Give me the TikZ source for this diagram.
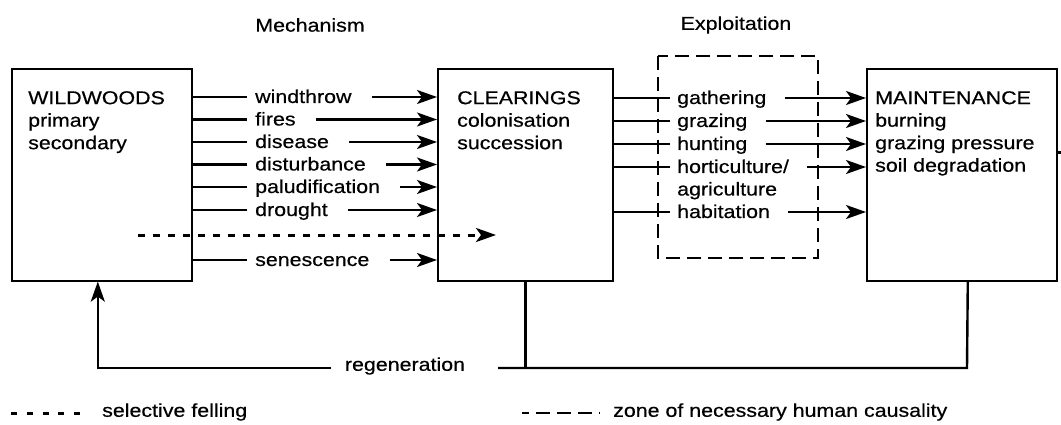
\documentclass[tikz,border=0pt]{standalone}
\usepackage{fontspec}
\setmainfont{Liberation Sans}[FakeStretch=1.15,FakeBold=0.5]
\usetikzlibrary{arrows.meta,calc}
\begin{document}
\begin{tikzpicture}[x=1pt,y=-1pt,
  every node/.style={font=\fontsize{18.6}{22.5}\selectfont},
  boxnode/.style={draw,line width=1.6pt,minimum width=#1,minimum height=212pt,inner sep=0pt,anchor=north west},
  boxtext/.style={anchor=north west,align=left,inner sep=0pt},
  lab/.style={anchor=west,inner sep=0pt,text height=13pt,text depth=1pt},
  conn/.style={line width=2.4pt},
  tip/.style={-{Stealth[length=20pt,width=14pt,inset=5pt]}},
  arr/.style={line width=2.4pt,tip},
  felling/.style={line width=3pt,dash pattern=on 7pt off 8pt},
  zone/.style={line width=2.4pt,dash pattern=on 14pt off 7pt}
]
\useasboundingbox (0,0) rectangle (1061,425);

% titles
\node (tmech) at (310,25) {Mechanism};
\node (texpl) at (736,25) {Exploitation};

% boxes
\node[boxnode=180pt] (wild) at (11,68) {};
\node[boxnode=175pt] (clear) at (437,68) {};
\node[boxnode=190pt] (maint) at (866,68) {};
\node[boxtext] (wildt) at (28,91) {WILDWOODS\\primary\\secondary};
\node[boxtext] (cleart) at (457,91) {CLEARINGS\\colonisation\\succession};
\node[boxtext] (maintt) at (875,91) {MAINTENANCE\\burning\\grazing pressure\\soil degradation};

% zone of necessary human causality
\draw[zone] (658,56) rectangle (818,258);

% mechanism labels
\node[lab] (m1) at (255,97) {windthrow};
\node[lab] (m2) at (255,119.5) {fires};
\node[lab] (m3) at (255,142) {disease};
\node[lab] (m4) at (255,164.5) {disturbance};
\node[lab] (m5) at (255,187) {paludification};
\node[lab] (m6) at (255,210) {drought};
\node[lab] (m7) at (255,260) {senescence};
\foreach \m in {m1,m2,m3,m4,m5,m6,m7}{
  \draw[conn] (wild.east |- \m.west) -- ([xshift=-8pt]\m.west);
  \draw[arr] ([xshift=20pt]\m.east) -- (clear.west |- \m.east);
}

% selective felling
\coordinate (sf1) at (138,235);
\coordinate (sf2) at (496,235);
\draw[felling,tip] (sf1) -- (sf2);

% exploitation labels
\node[lab] (e1) at (677,98) {gathering};
\node[lab] (e2) at (677,121) {grazing};
\node[lab] (e3) at (677,144) {hunting};
\node[lab] (e4) at (677,167) {horticulture/};
\node[lab] (e4b) at (677,189.5) {agriculture};
\node[lab] (e5) at (677,212) {habitation};
\foreach \e in {e1,e2,e3,e4,e5}{
  \draw[conn] (clear.east |- \e.west) -- ([xshift=-7pt]\e.west);
  \draw[arr] ([xshift=18pt]\e.east) -- (maint.west |- \e.east);
}

% stub on the right
\coordinate (stub) at (1061,153);
\draw[line width=3pt] (maint.east |- stub) -- (stub);

% regeneration
\node (regen) at (405,366) {regeneration};
\coordinate (rl) at (331,368);
\coordinate (rr) at (498,368);
\coordinate (rm) at (967,368);
\draw[arr] (rl) -| ([xshift=-4pt]wild.south);
\draw[conn] (rr) -- (rm) -- ([xshift=6pt]maint.south);
\draw[conn] (clear.south) -- (clear.south |- rr);

% legend
\coordinate (l1a) at (11,413);
\coordinate (l1b) at (80,413);
\draw[felling,dash pattern=on 6pt off 9.75pt] (l1a) -- (l1b);
\node[anchor=west,inner sep=0pt] (l1t) at (102,412) {selective felling};
\coordinate (l2a) at (522,413);
\coordinate (l2b) at (600,413);
\draw[zone,dash pattern=on 7pt off 7pt on 14pt off 7pt on 14pt off 7pt on 14pt off 7pt] (l2a) -- (l2b);
\node[anchor=west,inner sep=0pt] (l2t) at (613,412) {zone of necessary human causality};
\end{tikzpicture}
\end{document}
